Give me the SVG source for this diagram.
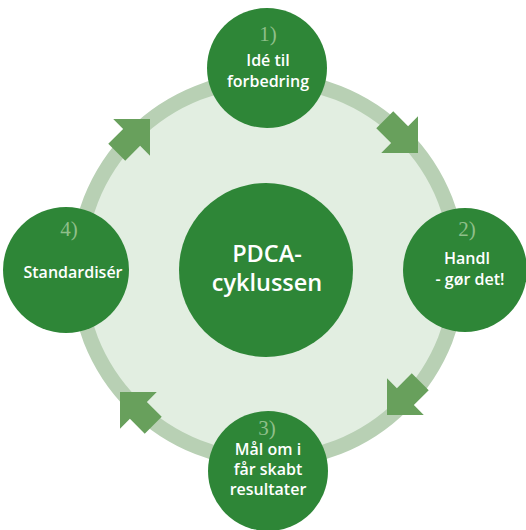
<svg xmlns="http://www.w3.org/2000/svg" width="526" height="530" viewBox="0 0 526 530">
<style>
.node{fill:#2e8637}
.num{font-family:"Liberation Serif","DejaVu Serif",serif;font-size:21px;fill:#8fbf8a;text-anchor:middle}
.lbl{font-family:"Open Sans","Noto Sans",sans-serif;font-weight:600;font-size:16px;fill:#ffffff;text-anchor:middle}
.big{font-family:"Open Sans","Noto Sans",sans-serif;font-weight:600;font-size:23.5px;fill:#ffffff;text-anchor:middle}
.arr{fill:#68a05c}
</style>
<defs>
<path id="arw" d="M0,0 L-26,-26 L-26,-12 L-47,-12 L-47,12 L-26,12 L-26,26 Z"/>
</defs>
<rect width="526" height="530" fill="#ffffff"/>
<g id="ring">
<circle cx="268" cy="270" r="190.5" fill="#e2eee1" stroke="#b8d0b4" stroke-width="15"/>
</g>
<g id="connectors">
<use href="#arw" class="arr" transform="translate(418,153) rotate(45)"/>
<use href="#arw" class="arr" transform="translate(387,415) rotate(135)"/>
<use href="#arw" class="arr" transform="translate(120,392) rotate(225)"/>
<use href="#arw" class="arr" transform="translate(150,119) rotate(-45)"/>
</g>
<g id="center">
<circle class="node" cx="266" cy="270" r="87"/>
<text class="big" x="267" y="262">PDCA-</text>
<text class="big" x="267" y="291">cyklussen</text>
</g>
<g id="node1">
<circle class="node" cx="267" cy="68" r="60"/>
<text class="num" x="268" y="41">1)</text>
<text class="lbl" x="268" y="66">Idé til</text>
<text class="lbl" x="268" y="87">forbedring</text>
</g>
<g id="node2">
<circle class="node" cx="465" cy="270" r="62"/>
<text class="num" x="467" y="236">2)</text>
<text class="lbl" x="467" y="264">Handl</text>
<text class="lbl" x="470" y="285">- gør det!</text>
</g>
<g id="node3">
<circle class="node" cx="268" cy="471" r="60"/>
<text class="num" x="267" y="435">3)</text>
<text class="lbl" x="268" y="455">Mål om i</text>
<text class="lbl" x="268" y="475">får skabt</text>
<text class="lbl" x="268" y="495">resultater</text>
</g>
<g id="node4">
<circle class="node" cx="66" cy="270" r="63"/>
<text class="num" x="69" y="236">4)</text>
<text class="lbl" x="73" y="278">Standardisér</text>
</g>
</svg>
